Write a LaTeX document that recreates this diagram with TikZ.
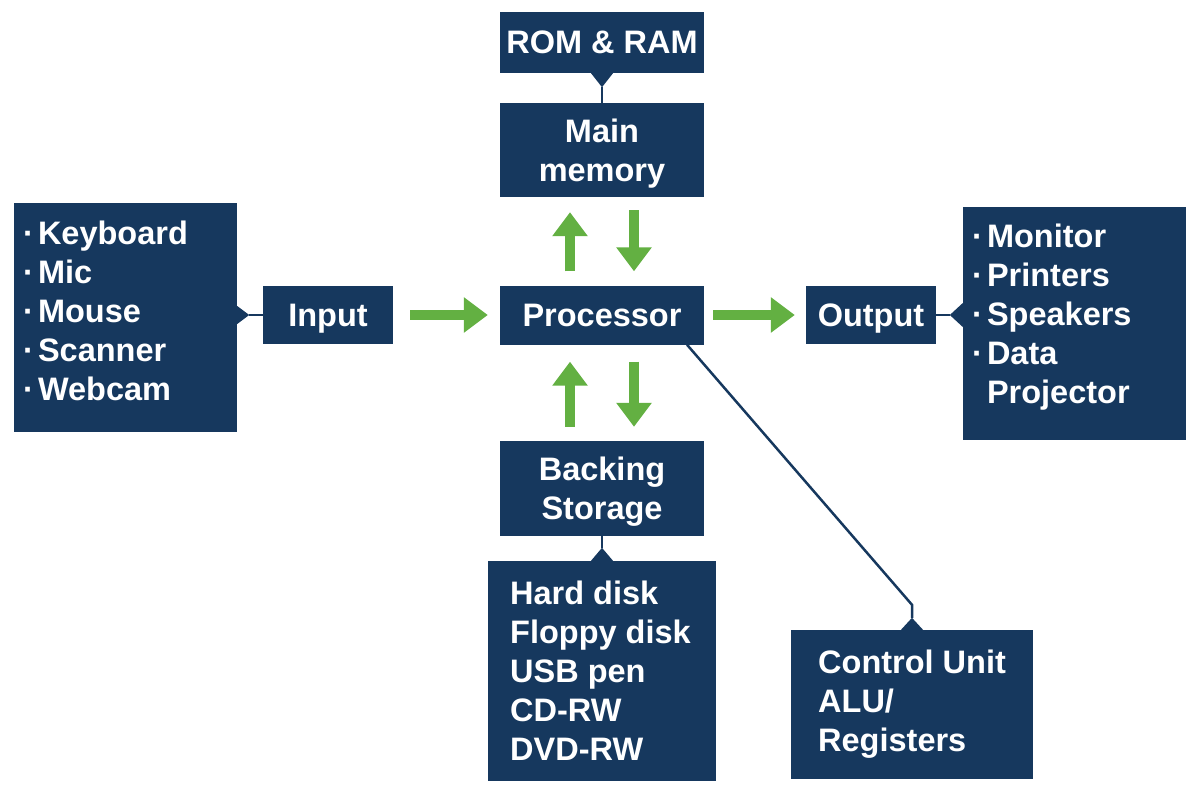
\documentclass[tikz,border=0pt]{standalone}
\usepackage{fontspec}
\setmainfont{Liberation Sans}
\usetikzlibrary{arrows.meta,calc}
\definecolor{dk}{RGB}{22,56,94}
\definecolor{gr}{RGB}{99,176,66}
\newcommand\bigfs{\fontsize{32.5}{39}\selectfont\bfseries}
\newcommand\itembul{·\hspace{4pt}}
\begin{document}
\begin{tikzpicture}[x=1pt,y=-1pt,
  box/.style={fill=dk, text=white, inner sep=0pt, align=center, font=\bigfs, text depth=0pt},
  txt/.style={text=white, inner sep=0pt, align=left, anchor=north west, font=\bigfs},
  conn/.style={draw=dk, line width=2.5pt},
  garrow/.style={draw=gr, line width=10pt, -{Triangle[width=34pt,length=24pt]}}]
\useasboundingbox (0,0) rectangle (1200,795);
% boxes
\node[box, minimum width=204pt, minimum height=61pt] (R) at (602,42.5) {ROM \& RAM};
\node[box, minimum width=204pt, minimum height=94pt] (M) at (602,150) {Main\\memory};
\node[box, minimum width=204pt, minimum height=59pt] (P) at (602,315) {Processor};
\node[box, minimum width=130pt, minimum height=58pt] (I) at (328,315) {Input};
\node[box, minimum width=130pt, minimum height=58pt] (O) at (871,315) {Output};
\node[box, minimum width=204pt, minimum height=95pt] (B) at (602,488.5) {Backing\\Storage};
\node[box, minimum width=223pt, minimum height=229pt] (L) at (125.5,317.5) {};
\node[box, minimum width=223pt, minimum height=233pt] (Rl) at (1074.5,323.5) {};
\node[box, minimum width=228pt, minimum height=220pt] (S) at (602,671) {};
\node[box, minimum width=242pt, minimum height=149pt] (C) at (912,704.5) {};
% list texts
\node[txt] (Lt) at (23,221) {\itembul Keyboard\\\itembul Mic\\\itembul Mouse\\\itembul Scanner\\\itembul Webcam};
\node[txt] (Rt) at (972,224) {\itembul Monitor\\\itembul Printers\\\itembul Speakers\\\itembul Data\\\hphantom{\itembul}Projector};
\node[txt] (St) at (510,581) {Hard disk\\Floppy disk\\USB pen\\CD-RW\\DVD-RW};
\node[txt] (Ct) at (818,650) {Control Unit\\ALU/\\Registers};
% notches and connectors
\coordinate (Lb) at (L.east |- I.west);
\coordinate (Ln) at ($(Lb)+(12,0)$);
\fill[dk] ($(Lb)+(0,-9)$) -- (Ln) -- ($(Lb)+(0,9)$) -- cycle;
\draw[conn] (I.west) -- (Ln);
\coordinate (Rb) at (Rl.west |- O.east);
\coordinate (Rn) at ($(Rb)+(-13,0)$);
\fill[dk] ($(Rb)+(0,-12)$) -- (Rn) -- ($(Rb)+(0,12)$) -- cycle;
\draw[conn] (O.east) -- (Rn);
\coordinate (Rmn) at ($(R.south)+(0,14)$);
\fill[dk] ($(R.south)+(-11,0)$) -- (Rmn) -- ($(R.south)+(11,0)$) -- cycle;
\draw[conn] (Rmn) -- (M.north);
\coordinate (Sn) at ($(S.north)+(0,-13)$);
\fill[dk] ($(S.north)+(-11,0)$) -- (Sn) -- ($(S.north)+(11,0)$) -- cycle;
\draw[conn] (B.south) -- (Sn);
\coordinate (Cn) at ($(C.north)+(0,-12)$);
\coordinate (Ce) at ($(C.north)+(0,-25)$);
\fill[dk] ($(C.north)+(-11,0)$) -- (Cn) -- ($(C.north)+(11,0)$) -- cycle;
\draw[conn] ($(P.south)+(85,0)$) -- (Ce) -- (Cn);
% green arrows
\draw[garrow, shorten <=17pt, shorten >=12pt] (I.east) -- (P.west);
\draw[garrow, shorten <=9pt, shorten >=11pt] (P.east) -- (O.west);
\draw[garrow, shorten <=14pt, shorten >=15pt] ($(P.north)+(-32,0)$) -- ($(M.south)+(-32,0)$);
\draw[garrow, shorten <=13pt, shorten >=14pt] ($(M.south)+(32,0)$) -- ($(P.north)+(32,0)$);
\draw[garrow, shorten <=14pt, shorten >=17pt] ($(B.north)+(-32,0)$) -- ($(P.south)+(-32,0)$);
\draw[garrow, shorten <=17pt, shorten >=14pt] ($(P.south)+(32,0)$) -- ($(B.north)+(32,0)$);
\end{tikzpicture}
\end{document}
